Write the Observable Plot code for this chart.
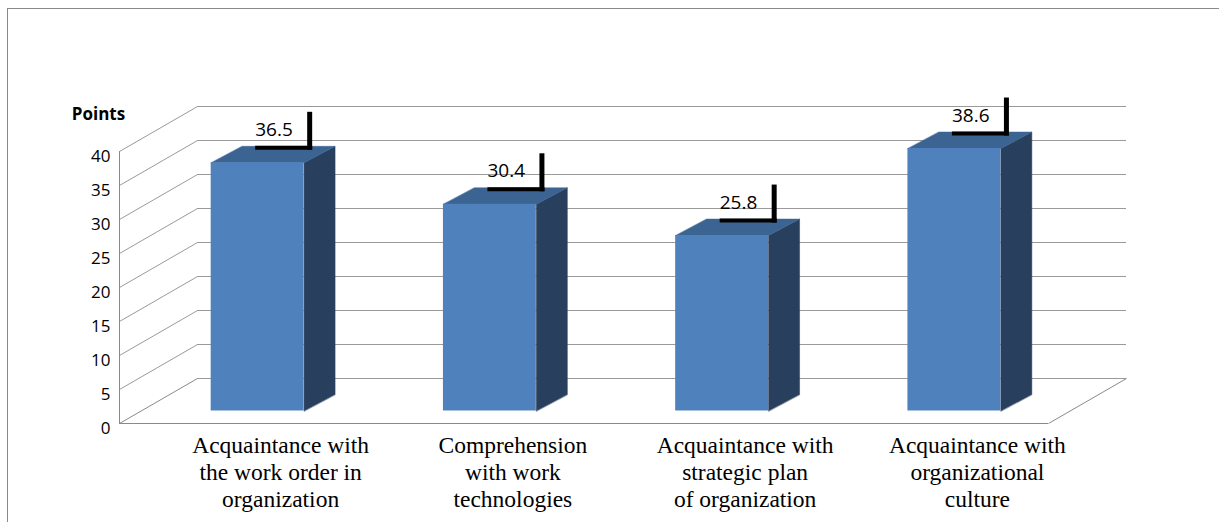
<!DOCTYPE html>
<html>
<head>
<meta charset="utf-8">
<script src="https://cdn.jsdelivr.net/npm/d3@7"></script>
<script src="https://cdn.jsdelivr.net/npm/@observablehq/plot@0.6"></script>
<style>
  html, body { margin: 0; padding: 0; background: #fff; }
  #wrap { position: relative; width: 1219px; height: 522px; overflow: hidden; }
  #border { position: absolute; left: 7px; top: 8px; width: 1300px; height: 600px;
            border-left: 1.5px solid #8a8a8a; border-top: 1.5px solid #8a8a8a; }
  #chart { position: absolute; left: 0; top: 0; }
</style>
</head>
<body>
<div id="wrap"><div id="border"></div><div id="chart"></div></div>
<script>
// ---- data ----
const categories = [
  "Acquaintance with\nthe work order in\norganization",
  "Comprehension\nwith work\ntechnologies",
  "Acquaintance with\nstrategic plan\nof organization",
  "Acquaintance with\norganizational\nculture"
];
const values = [36.5, 30.4, 25.8, 38.6];
const yTicks = [0, 5, 10, 15, 20, 25, 30, 35, 40];
const yLabel = "Points";

// ---- layout / style ----
const W = 1219, H = 522;
const X0 = 119, X1 = 1048, Y0 = 423, Y1 = 151;
const ux = categories.length / (X1 - X0);      // x units per pixel
const uy = 40 / (Y0 - Y1);                      // y units per pixel
const WALL_DX = 78, WALL_DY = 45;               // depth of the floor/walls (px)
const BAR_DX = 22, BAR_DY = -12.5;              // bars sit inside the depth
const BD_X = 31, BD_Y = 16.5;                   // bar depth (px)
const PAD = 0.3, BW = 0.4;                      // bar placement inside its slot
const FRONT = "#4f81bd", TOP = "#3c6492", SIDE = "#293f5e";
const GRID = "#9a9a9a", FLOOR = "#8a8a8a";

const wx = WALL_DX * ux, wy = WALL_DY * uy;
const bx = BD_X * ux, by = BD_Y * uy;

const bars = values.map((v, i) => ({i, v, c: categories[i]}));
const topFaces = bars.flatMap(d => [
  {i: d.i, x: d.i + PAD, y: d.v},
  {i: d.i, x: d.i + PAD + BW, y: d.v},
  {i: d.i, x: d.i + PAD + BW + bx, y: d.v + by},
  {i: d.i, x: d.i + PAD + bx, y: d.v + by}
]);
const sideFaces = bars.flatMap(d => [
  {i: d.i, x: d.i + PAD + BW, y: 0},
  {i: d.i, x: d.i + PAD + BW, y: d.v},
  {i: d.i, x: d.i + PAD + BW + bx, y: d.v + by},
  {i: d.i, x: d.i + PAD + BW + bx, y: by}
]);

// leader lines for data labels (px offsets relative to bar front-left top)
const LX = 66, LY = 27.5, LLEN = 57, LUP = 36;

const n = categories.length;
const chart = Plot.plot({
  width: W,
  height: H,
  marginLeft: X0,
  marginRight: W - X1,
  marginTop: 0,
  marginBottom: H - Y0,
  x: {type: "linear", domain: [0, n], range: [X0, X1], axis: null},
  y: {type: "linear", domain: [0, 40], range: [Y0, Y1], axis: null},
  style: {fontFamily: "Open Sans", background: "transparent", overflow: "visible"},
  marks: [
    // back wall gridlines
    Plot.ruleY(yTicks, {y: d => d + wy, x1: wx, x2: n + wx, stroke: GRID, strokeWidth: 1}),
    // left wall diagonals
    Plot.link(yTicks.filter(d => d > 0), {x1: 0, y1: d => d, x2: wx, y2: d => d + wy, stroke: GRID, strokeWidth: 1}),
    // floor
    Plot.link([0], {x1: 0, y1: 0, x2: wx, y2: wy, stroke: FLOOR}),
    Plot.ruleY([0], {x1: 0, x2: n, stroke: FLOOR}),
    Plot.link([0], {x1: n, y1: 0, x2: n + wx, y2: wy, stroke: FLOOR}),
    // front vertical axis line
    Plot.ruleX([0], {y1: 0, y2: 40, stroke: FLOOR}),
    // bars: side, top, front
    Plot.line(sideFaces, {x: "x", y: "y", z: "i", curve: "linear-closed", fill: SIDE, stroke: SIDE, strokeWidth: 0.5, dx: BAR_DX, dy: BAR_DY}),
    Plot.line(topFaces, {x: "x", y: "y", z: "i", curve: "linear-closed", fill: TOP, stroke: TOP, strokeWidth: 0.5, dx: BAR_DX, dy: BAR_DY}),
    Plot.rectY(bars, {x1: d => d.i + PAD, x2: d => d.i + PAD + BW, y1: 0, y2: "v", fill: FRONT, dx: BAR_DX, dy: BAR_DY}),
    // leader lines
    Plot.link(bars, {
      x1: d => d.i + PAD + LX * ux, x2: d => d.i + PAD + (LX + LLEN) * ux,
      y1: d => d.v + LY * uy, y2: d => d.v + LY * uy,
      stroke: "#000", strokeWidth: 4
    }),
    Plot.link(bars, {
      x1: d => d.i + PAD + (LX + LLEN - 2.5) * ux, x2: d => d.i + PAD + (LX + LLEN - 2.5) * ux,
      y1: d => d.v + (LY - 2) * uy, y2: d => d.v + (LY + LUP) * uy,
      stroke: "#000", strokeWidth: 5
    }),
    // data labels
    Plot.text(bars, {
      x: d => d.i + PAD + LX * ux, y: d => d.v + (LY + 12) * uy,
      text: d => d.v.toFixed(1), textAnchor: "start", lineAnchor: "bottom",
      fontSize: 19, fill: "#000"
    }),
    // y tick labels
    Plot.text(yTicks, {x: 0, y: d => d, text: d => String(d), textAnchor: "end", dx: -9, dy: 5, fontSize: 17, fill: "#000"}),
    // y axis title
    Plot.text([yLabel], {x: 0, y: 40, text: d => d, textAnchor: "middle", lineAnchor: "bottom", dx: -21, dy: -32, fontSize: 17, fontWeight: "bold", fill: "#000"}),
    // category labels
    Plot.text(bars, {
      x: d => d.i + 0.5, y: 0, text: "c", textAnchor: "middle", lineAnchor: "top",
      dx: 45, dy: 10, fontSize: 23.5, lineHeight: 1.15,
      fontFamily: "Liberation Serif", fill: "#000"
    })
  ]
});
document.getElementById("chart").appendChild(chart);
</script>
</body>
</html>
